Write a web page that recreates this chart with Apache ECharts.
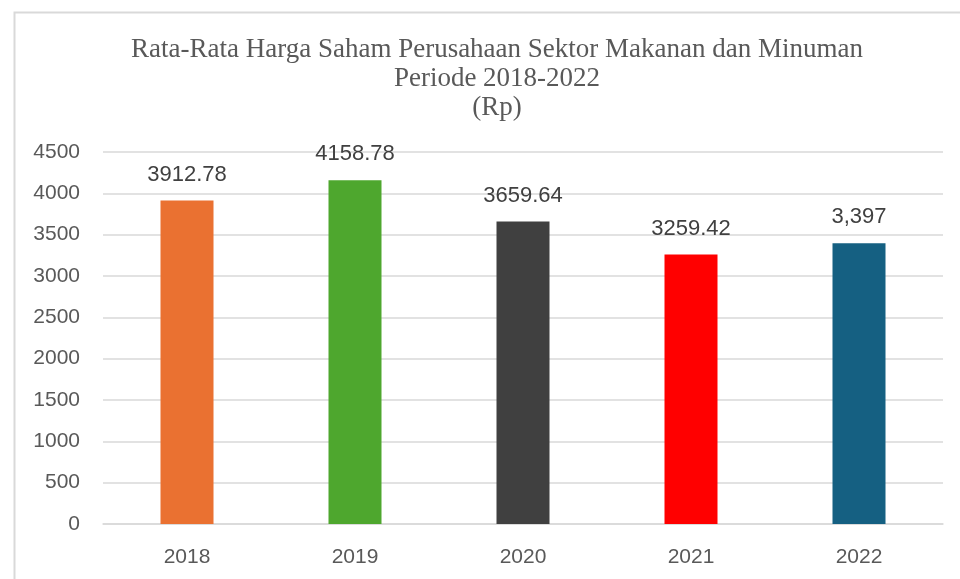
<!DOCTYPE html>
<html>
<head>
<meta charset="utf-8">
<script src="https://cdn.jsdelivr.net/npm/echarts@6/dist/echarts.min.js"></script>
<style>html,body{margin:0;padding:0;background:#fff}#c{width:960px;height:579px}</style>
</head>
<body>
<div id="c"></div>
<script>
var categories = ['2018', '2019', '2020', '2021', '2022'];
var values = [3912.78, 4158.78, 3659.64, 3259.42, 3397];
var valueLabels = ['3912.78', '4158.78', '3659.64', '3259.42', '3,397'];
var barColors = ['#EA7131', '#4EA72E', '#404040', '#FF0000', '#156082'];
var titleText = 'Rata-Rata Harga Saham Perusahaan Sektor Makanan dan Minuman\nPeriode 2018-2022\n(Rp)';

var chart = echarts.init(document.getElementById('c'), null, {renderer: 'canvas'});
chart.setOption({
  backgroundColor: '#fff',
  animation: false,
  graphic: [{
    type: 'rect', left: 12, top: 10, silent: true,
    shape: {width: 1000, height: 700},
    style: {fill: 'none', stroke: '#d9d9d9', lineWidth: 2}
  }],
  title: {
    text: titleText,
    left: 492, top: 30, textAlign: 'center',
    textStyle: {fontFamily: 'Liberation Serif', fontSize: 27, fontWeight: 'normal', color: '#595959', lineHeight: 29}
  },
  grid: {left: 103, right: 17, top: 152, bottom: 55, containLabel: false},
  xAxis: {
    type: 'category', data: categories,
    axisLine: {show: true, lineStyle: {color: '#d9d9d9', width: 1.5}},
    axisTick: {show: false},
    axisLabel: {fontFamily: 'Liberation Sans', fontSize: 21, color: '#595959', margin: 23}
  },
  yAxis: {
    type: 'value', min: 0, max: 4500, interval: 500,
    axisLine: {show: false}, axisTick: {show: false},
    splitLine: {lineStyle: {color: '#d9d9d9', width: 1.5}},
    axisLabel: {fontFamily: 'Liberation Sans', fontSize: 21, color: '#595959', margin: 23,
      formatter: function (v) { return String(v); }}
  },
  series: [{
    type: 'bar',
    barWidth: 53,
    data: values.map(function (v, i) {
      return {value: v, itemStyle: {color: barColors[i]}};
    }),
    label: {
      show: true, position: 'top', distance: 15,
      fontFamily: 'Liberation Sans', fontSize: 22, color: '#404040',
      formatter: function (p) { return valueLabels[p.dataIndex]; }
    }
  }]
});
</script>
</body>
</html>
